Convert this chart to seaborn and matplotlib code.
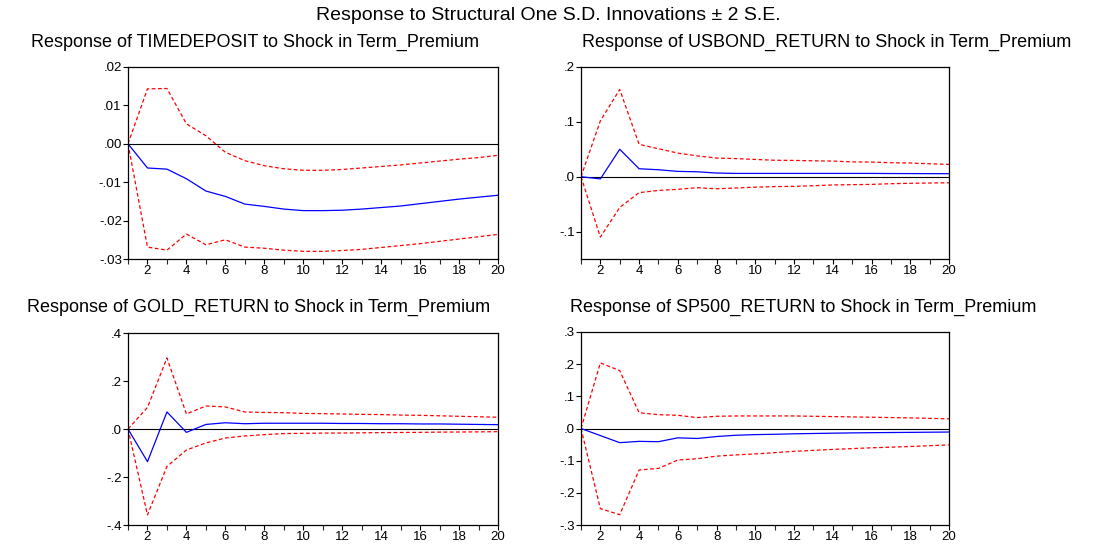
import numpy as np
import pandas as pd
import matplotlib
matplotlib.use("Agg")
import matplotlib.pyplot as plt
from matplotlib.ticker import FuncFormatter, MultipleLocator
import seaborn as sns

periods = list(range(1, 21))

titles = [
    "Response of TIMEDEPOSIT to Shock in Term_Premium",
    "Response of USBOND_RETURN to Shock in Term_Premium",
    "Response of GOLD_RETURN to Shock in Term_Premium",
    "Response of SP500_RETURN to Shock in Term_Premium",
]
main_title = "Response to Structural One S.D. Innovations \u00b1 2 S.E."

# TIMEDEPOSIT
td_resp = [0.0, -0.0063, -0.0066, -0.0091, -0.0123, -0.0137, -0.0157, -0.0163, -0.0170, -0.0174,
           -0.0174, -0.0173, -0.0170, -0.0166, -0.0162, -0.0156, -0.0150, -0.0144, -0.0139, -0.0134]
td_up = [0.0, 0.0143, 0.0144, 0.0052, 0.0021, -0.0022, -0.0044, -0.0057, -0.0065, -0.0069,
         -0.0069, -0.0067, -0.0063, -0.0059, -0.0055, -0.0050, -0.0045, -0.0040, -0.0036, -0.0030]
td_lo = [0.0, -0.0269, -0.0277, -0.0235, -0.0263, -0.0250, -0.0269, -0.0272, -0.0277, -0.0280,
         -0.0280, -0.0278, -0.0275, -0.0270, -0.0265, -0.0260, -0.0254, -0.0248, -0.0242, -0.0236]

# USBOND_RETURN
ub_resp = [0.0, -0.004, 0.050, 0.0145, 0.0127, 0.0097, 0.009, 0.0067, 0.006, 0.006,
           0.006, 0.006, 0.006, 0.006, 0.006, 0.006, 0.0058, 0.0057, 0.0056, 0.0055]
ub_up = [0.0, 0.102, 0.159, 0.059, 0.051, 0.043, 0.038, 0.034, 0.033, 0.0315,
         0.030, 0.0297, 0.029, 0.0285, 0.027, 0.0267, 0.0255, 0.025, 0.0236, 0.0224]
ub_lo = [0.0, -0.110, -0.056, -0.029, -0.025, -0.023, -0.020, -0.022, -0.0206, -0.019,
         -0.018, -0.0176, -0.0164, -0.015, -0.0145, -0.014, -0.0127, -0.012, -0.0115, -0.011]

# GOLD_RETURN
gd_resp = [0.0, -0.136, 0.071, -0.014, 0.019, 0.026, 0.022, 0.024, 0.024, 0.024,
           0.024, 0.023, 0.023, 0.022, 0.022, 0.021, 0.021, 0.020, 0.019, 0.018]
gd_up = [0.0, 0.090, 0.296, 0.0625, 0.096, 0.092, 0.071, 0.069, 0.068, 0.065,
         0.064, 0.0625, 0.061, 0.060, 0.058, 0.057, 0.055, 0.053, 0.051, 0.049]
gd_lo = [0.0, -0.358, -0.156, -0.0875, -0.058, -0.0375, -0.029, -0.0236, -0.019, -0.018,
         -0.017, -0.0167, -0.016, -0.015, -0.0145, -0.014, -0.013, -0.0125, -0.012, -0.011]

# SP500_RETURN
sp_resp = [0.0, -0.022, -0.044, -0.040, -0.041, -0.029, -0.031, -0.025, -0.021, -0.019,
           -0.018, -0.0165, -0.0155, -0.0145, -0.0137, -0.013, -0.0125, -0.012, -0.0115, -0.011]
sp_up = [0.0, 0.204, 0.180, 0.049, 0.043, 0.041, 0.034, 0.038, 0.039, 0.039,
         0.039, 0.039, 0.038, 0.037, 0.036, 0.035, 0.034, 0.033, 0.0315, 0.030]
sp_lo = [0.0, -0.249, -0.268, -0.129, -0.124, -0.098, -0.094, -0.086, -0.082, -0.079,
         -0.075, -0.071, -0.068, -0.065, -0.0625, -0.060, -0.058, -0.056, -0.0535, -0.051]

panels = [
    (td_resp, td_up, td_lo, (-0.03, 0.02), 0.01, 2),
    (ub_resp, ub_up, ub_lo, (-0.15, 0.2), 0.1, 1),
    (gd_resp, gd_up, gd_lo, (-0.4, 0.4), 0.2, 1),
    (sp_resp, sp_up, sp_lo, (-0.3, 0.3), 0.1, 1),
]

sns.set_style("ticks")
plt.rcParams["font.family"] = ["Liberation Sans", "DejaVu Sans"]
plt.rcParams["text.color"] = "black"

W, H = 1099, 544
fig = plt.figure(figsize=(W / 100, H / 100), dpi=100)

# pixel boxes (left, top, right, bottom)
boxes = [(128, 67, 498, 259), (581, 67, 949, 259), (128, 333, 498, 525), (581, 332, 949, 525)]
title_pos = [(255, 42), (827, 42), (259, 307), (803, 307)]


def fmt_factory(dec):
    def f(v, pos):
        if abs(v) < 1e-12:
            v = 0.0
        s = f"{v:.{dec}f}"
        s = s.replace("0.", ".", 1)
        return s
    return f


for i, (resp, up, lo, ylim, step, dec) in enumerate(panels):
    l, t, r, b = boxes[i]
    ax = fig.add_axes([l / W, 1 - b / H, (r - l) / W, (b - t) / H])
    df = pd.DataFrame({
        "period": periods * 3,
        "value": resp + up + lo,
        "series": ["resp"] * 20 + ["up"] * 20 + ["lo"] * 20,
    })
    sns.lineplot(data=df[df.series == "up"], x="period", y="value", ax=ax,
                 color="#ff0000", linestyle=(0, (3, 2)), linewidth=0.9)
    sns.lineplot(data=df[df.series == "lo"], x="period", y="value", ax=ax,
                 color="#ff0000", linestyle=(0, (3, 2)), linewidth=0.9)
    sns.lineplot(data=df[df.series == "resp"], x="period", y="value", ax=ax,
                 color="#0000ff", linewidth=0.9)
    ax.axhline(0, color="black", linewidth=0.8, zorder=1)
    ax.set_xlim(1, 20)
    ax.set_ylim(*ylim)
    ax.set_xlabel("")
    ax.set_ylabel("")
    ax.xaxis.set_major_locator(MultipleLocator(2))
    ax.xaxis.set_minor_locator(MultipleLocator(1))
    ax.yaxis.set_major_locator(MultipleLocator(step))
    ax.yaxis.set_major_formatter(FuncFormatter(fmt_factory(dec)))
    ax.tick_params(axis="both", which="major", direction="out", length=3.5, width=0.8,
                   labelsize=9.5, pad=1, color="black", labelcolor="black")
    ax.tick_params(axis="x", which="minor", direction="out", length=3.5, width=0.8)
    for sp in ax.spines.values():
        sp.set_linewidth(0.9)
        sp.set_color("black")
    tx, ty = title_pos[i]
    fig.text(tx / W, 1 - ty / H, titles[i], ha="center", va="center", fontsize=13,
             color="black")

fig.text(548 / W, 1 - 15 / H, main_title, ha="center", va="center", fontsize=14,
         color="black")

fig.savefig("out.png", dpi=100)
